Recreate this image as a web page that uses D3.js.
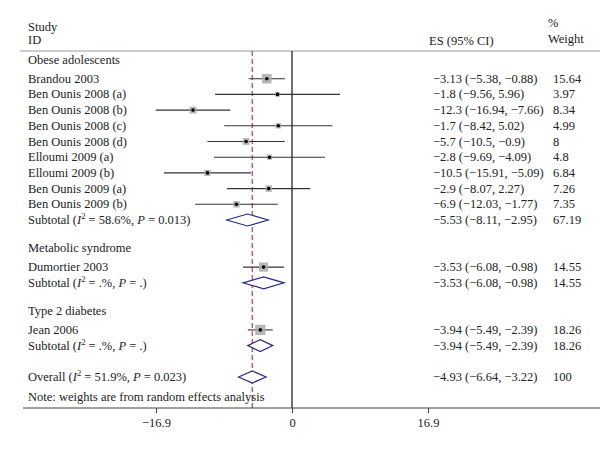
<!DOCTYPE html>
<html>
<head>
<meta charset="utf-8">
<script src="https://cdn.jsdelivr.net/npm/d3@7"></script>
<style>
  body { margin: 0; background: #fff; }
  text { font-family: "Liberation Serif", "DejaVu Serif", serif; font-size: 12.5px; fill: #222; }
</style>
</head>
<body>
<div id="forest"></div>
<script>
// data
const groupNames = ["Obese adolescents", "Metabolic syndrome", "Type 2 diabetes"];
const studyNames = ["Brandou 2003", "Ben Ounis 2008 (a)", "Ben Ounis 2008 (b)", "Ben Ounis 2008 (c)",
  "Ben Ounis 2008 (d)", "Elloumi 2009 (a)", "Elloumi 2009 (b)", "Ben Ounis 2009 (a)",
  "Ben Ounis 2009 (b)", "Dumortier 2003", "Jean 2006"];
const studyGroup = [0, 0, 0, 0, 0, 0, 0, 0, 0, 1, 2];
const studyES = [-3.13, -1.8, -12.3, -1.7, -5.7, -2.8, -10.5, -2.9, -6.9, -3.53, -3.94];
const studyLo = [-5.38, -9.56, -16.94, -8.42, -10.5, -9.69, -15.91, -8.07, -12.03, -6.08, -5.49];
const studyHi = [-0.88, 5.96, -7.66, 5.02, -0.9, 4.09, -5.09, 2.27, -1.77, -0.98, -2.39];
const studyWeight = [15.64, 3.97, 8.34, 4.99, 8, 4.8, 6.84, 7.26, 7.35, 14.55, 18.26];
const studyCIText = ["−3.13 (−5.38, −0.88)", "−1.8 (−9.56, 5.96)", "−12.3 (−16.94, −7.66)",
  "−1.7 (−8.42, 5.02)", "−5.7 (−10.5, −0.9)", "−2.8 (−9.69, −4.09)", "−10.5 (−15.91, −5.09)",
  "−2.9 (−8.07, 2.27)", "−6.9 (−12.03, −1.77)", "−3.53 (−6.08, −0.98)", "−3.94 (−5.49, −2.39)"];

const subES = [-5.53, -3.53, -3.94];
const subLo = [-8.11, -6.08, -5.49];
const subHi = [-2.95, -0.98, -2.39];
const subWeight = [67.19, 14.55, 18.26];
const subI2 = ["58.6%", ".%", ".%"];
const subP = ["0.013", ".", "."];
const subCIText = ["−5.53 (−8.11, −2.95)", "−3.53 (−6.08, −0.98)", "−3.94 (−5.49, −2.39)"];

const overall = { es: -4.93, lo: -6.64, hi: -3.22, weight: 100, i2: "51.9%", p: "0.023",
  text: "−4.93 (−6.64, −3.22)" };

const xTicks = [-16.9, 0, 16.9];
const xTickLabels = ["−16.9", "0", "16.9"];

// frame
const FRAME_WIDTH = 600;
const FRAME_HEIGHT = 458;
const TOP_RULE = 51;
const AXIS_Y = 408;
const LABEL_X = 28;
const CI_X = 433;
const WEIGHT_X = 553;

const FRAME = d3.select("#forest")
  .append("svg")
  .attr("width", FRAME_WIDTH)
  .attr("height", FRAME_HEIGHT);

const X_SCALE = d3.scaleLinear()
  .domain([-16.9, 16.9])
  .range([156, 428]);

// build the row list: group label, studies, subtotal, blank
let rows = [];
groupNames.forEach((g, gi) => {
  rows.push({ type: "group", label: g });
  studyNames.forEach((s, i) => {
    if (studyGroup[i] === gi) {
      rows.push({ type: "study", label: s, es: studyES[i], lo: studyLo[i], hi: studyHi[i],
        w: studyWeight[i], text: studyCIText[i] });
    }
  });
  rows.push({ type: "sub", label: "Subtotal", es: subES[gi], lo: subLo[gi], hi: subHi[gi],
    w: subWeight[gi], i2: subI2[gi], p: subP[gi], text: subCIText[gi] });
  rows.push({ type: "blank" });
});
rows.push({ type: "sub", label: "Overall", es: overall.es, lo: overall.lo, hi: overall.hi,
  w: overall.weight, i2: overall.i2, p: overall.p, text: overall.text });
rows.push({ type: "note", label: "Note: weights are from random effects analysis" });

const Y_SCALE = d3.scaleLinear()
  .domain([0, rows.length - 1])
  .range([63, 63 + (rows.length - 1) * 15.7]);

// header
const header = FRAME.append("g");
header.append("text").attr("x", LABEL_X).attr("y", 31).text("Study");
header.append("text").attr("x", LABEL_X).attr("y", 44).text("ID");
header.append("text").attr("x", CI_X - 4).attr("y", 45).text("ES (95% CI)");
header.append("text").attr("x", WEIGHT_X - 5).attr("y", 27).text("%");
header.append("text").attr("x", WEIGHT_X - 5).attr("y", 43).text("Weight");

FRAME.append("line")
  .attr("x1", 20).attr("x2", FRAME_WIDTH)
  .attr("y1", TOP_RULE).attr("y2", TOP_RULE)
  .attr("stroke", "#bbb").attr("stroke-width", 1.5);

// null line and overall line
FRAME.append("line")
  .attr("x1", X_SCALE(0)).attr("x2", X_SCALE(0))
  .attr("y1", TOP_RULE).attr("y2", AXIS_Y)
  .attr("stroke", "#111").attr("stroke-width", 1.2);

FRAME.append("line")
  .attr("x1", X_SCALE(overall.es)).attr("x2", X_SCALE(overall.es))
  .attr("y1", TOP_RULE).attr("y2", AXIS_Y)
  .attr("stroke", "#b5647a").attr("stroke-width", 1.5)
  .attr("stroke-dasharray", "5,3");

// axis
const xAxis = FRAME.append("g")
  .attr("transform", "translate(0," + AXIS_Y + ")")
  .call(d3.axisBottom(X_SCALE).tickValues(xTicks)
    .tickFormat((d, i) => xTickLabels[i]).tickSize(5).tickSizeOuter(0));
xAxis.select(".domain").remove();
xAxis.selectAll("line").attr("stroke", "#444");
xAxis.selectAll("text").attr("dy", "0.9em").style("font-size", "12.5px");
FRAME.append("line")
  .attr("x1", 23).attr("x2", FRAME_WIDTH)
  .attr("y1", AXIS_Y).attr("y2", AXIS_Y)
  .attr("stroke", "#444").attr("stroke-width", 1.2);

// rows
rows.forEach((r, i) => {
  const y = Y_SCALE(i);
  if (r.type === "blank") return;
  const yOff = r.type === "group" ? 1 : (r.type === "note" ? 8 : 4);
  const lab = FRAME.append("text").attr("x", LABEL_X).attr("y", y + yOff);
  if (r.type === "sub") {
    lab.append("tspan").text(r.label + " (");
    lab.append("tspan").style("font-style", "italic").text("I");
    lab.append("tspan").attr("dy", -5).style("font-size", "8.5px").text("2");
    lab.append("tspan").attr("dy", 5).text(" = " + r.i2 + ", ");
    lab.append("tspan").style("font-style", "italic").text("P");
    lab.append("tspan").text(" = " + r.p + ")");
  } else {
    lab.text(r.label);
  }

  if (r.type === "study") {
    FRAME.append("line")
      .attr("x1", X_SCALE(r.lo)).attr("x2", X_SCALE(r.hi))
      .attr("y1", y).attr("y2", y)
      .attr("stroke", "#333").attr("stroke-width", 1.1);
    const side = 2.4 * Math.sqrt(r.w);
    FRAME.append("rect")
      .attr("x", X_SCALE(r.es) - side / 2).attr("y", y - side / 2)
      .attr("width", side).attr("height", side)
      .attr("fill", "#aaa").attr("opacity", 0.85);
    FRAME.append("circle")
      .attr("cx", X_SCALE(r.es)).attr("cy", y).attr("r", 1.8)
      .attr("fill", "#000");
  }
  if (r.type === "sub") {
    const h = 6;
    FRAME.append("path")
      .attr("d", "M" + X_SCALE(r.lo) + "," + y + "L" + X_SCALE(r.es) + "," + (y - h) +
        "L" + X_SCALE(r.hi) + "," + y + "L" + X_SCALE(r.es) + "," + (y + h) + "Z")
      .attr("fill", "#fff").attr("stroke", "#2b2b80").attr("stroke-width", 1.2);
  }
  if (r.type === "study" || r.type === "sub") {
    FRAME.append("text").attr("x", CI_X).attr("y", y + 4).text(r.text);
    FRAME.append("text").attr("x", WEIGHT_X).attr("y", y + 4).text(r.w);
  }
});
</script>
</body>
</html>
